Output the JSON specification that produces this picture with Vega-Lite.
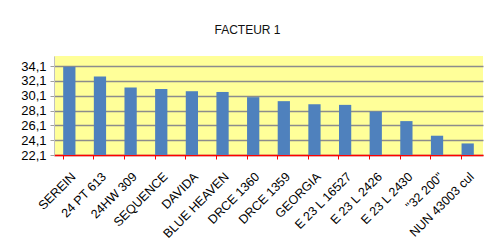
{
  "$schema": "https://vega.github.io/schema/vega-lite/v6.json",
  "autosize": "none",
  "width": 429,
  "height": 99,
  "padding": {"left": 54, "top": 56, "right": 6, "bottom": 87},
  "background": "white",
  "title": {"text": "FACTEUR 1", "fontSize": 12, "font": "Liberation Sans", "fontWeight": "normal", "color": "#111", "offset": 19, "dx": -21},
  "data": {"values": [
    {"variete": "SEREIN", "valeur": 34.0},
    {"variete": "24 PT 613", "valeur": 32.7},
    {"variete": "24HW 309", "valeur": 31.2},
    {"variete": "SEQUENCE", "valeur": 31.0},
    {"variete": "DAVIDA", "valeur": 30.7},
    {"variete": "BLUE HEAVEN", "valeur": 30.6},
    {"variete": "DRCE 1360", "valeur": 29.9},
    {"variete": "DRCE 1359", "valeur": 29.36},
    {"variete": "GEORGIA", "valeur": 28.95},
    {"variete": "E 23 L 16527", "valeur": 28.86},
    {"variete": "E 23 L 2426", "valeur": 27.96},
    {"variete": "E 23 L 2430", "valeur": 26.67},
    {"variete": "\"32 200\"", "valeur": 24.7},
    {"variete": "NUN 43003 cul", "valeur": 23.66}
  ]},
  "mark": {"type": "bar", "color": "#4F81BD"},
  "encoding": {
    "x": {
      "field": "variete", "type": "nominal", "sort": null,
      "scale": {"paddingInner": 0.6, "paddingOuter": 0.3},
      "axis": {
        "title": null, "labelAngle": -45, "bandPosition": 0,
        "domainColor": "#ff0000", "domainWidth": 1.5, "tickColor": "#ff0000", "tickSize": 4,
        "labelFontSize": 12.5, "labelFont": "Liberation Sans", "labelColor": "#000", "labelPadding": 11
      }
    },
    "y": {
      "field": "valeur", "type": "quantitative",
      "scale": {"domain": [22.1, 35.45], "nice": false, "zero": false},
      "axis": {
        "title": null, "values": [22.1, 24.1, 26.1, 28.1, 30.1, 32.1, 34.1],
        "labelExpr": "replace(format(datum.value, '.1f'), '.', ',')",
        "grid": true, "gridColor": "#8c8c8c", "gridWidth": 1.5,
        "domainColor": "#c0c0c0", "tickColor": "#a0a0a0", "tickSize": 4,
        "labelFontSize": 13, "labelFont": "Liberation Sans", "labelColor": "#000", "labelPadding": 4
      }
    },
    "y2": {"datum": 22.1}
  },
  "config": {"view": {"fill": "#FFFF99", "stroke": null}}
}
